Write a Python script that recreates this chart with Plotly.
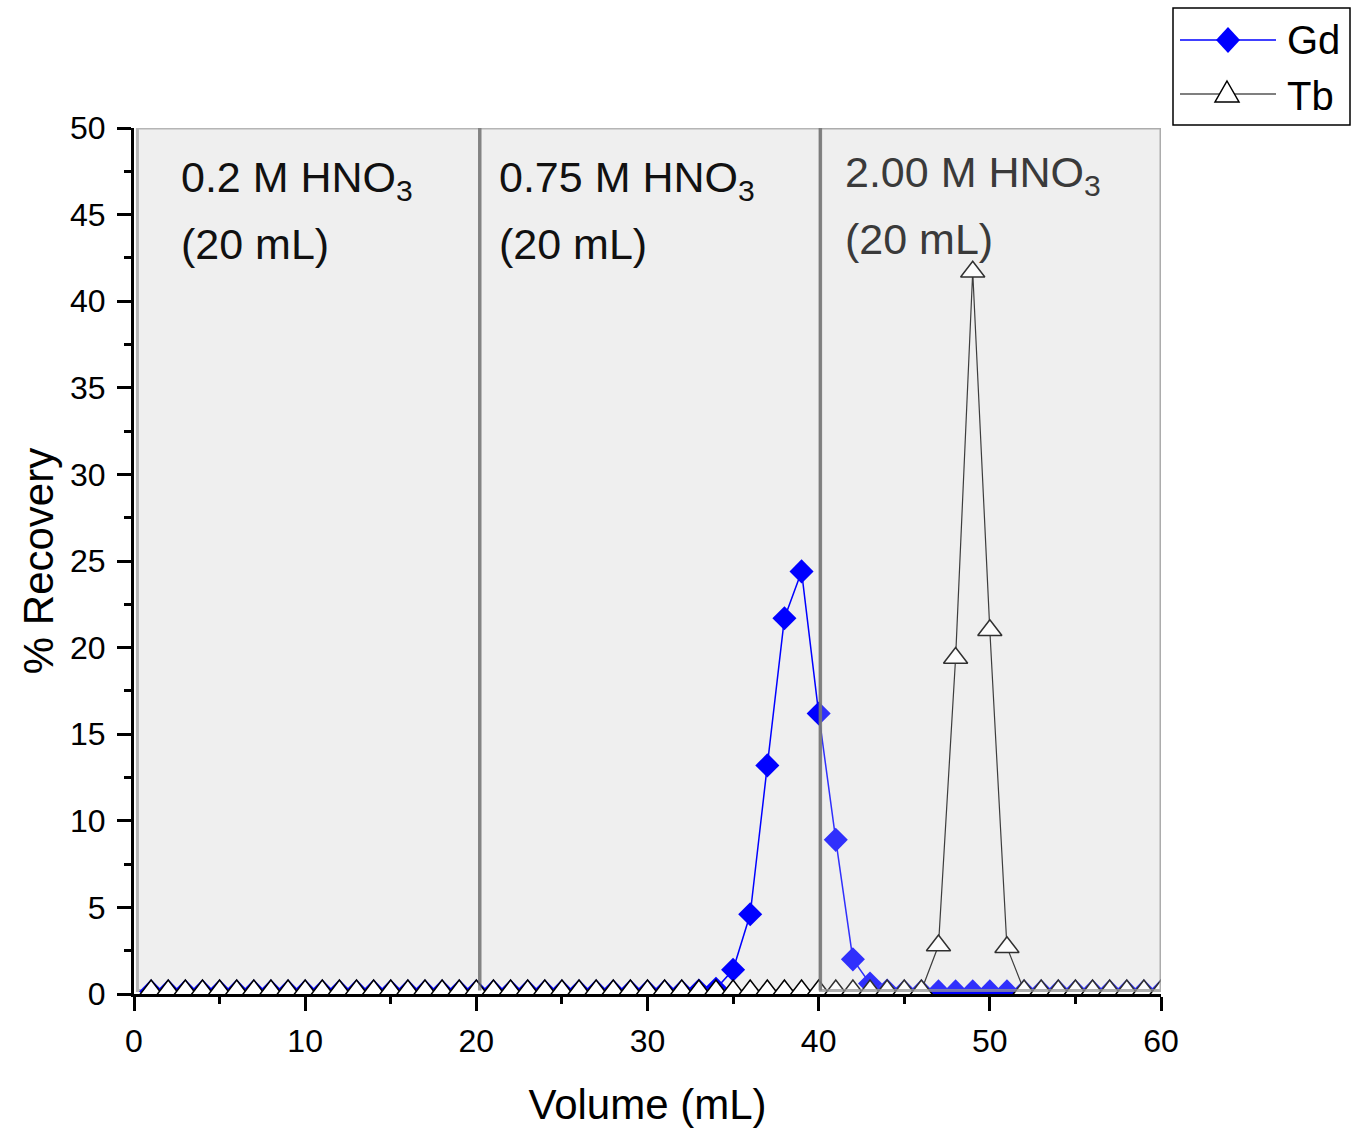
import plotly.graph_objects as go

# Elution volume (mL) and % recovery per fraction
volume = list(range(1, 61))
gd_recovery = [
    0.15, 0.15, 0.15, 0.15, 0.15, 0.15, 0.15, 0.15, 0.15, 0.15,
    0.15, 0.15, 0.15, 0.15, 0.15, 0.15, 0.15, 0.15, 0.15, 0.15,
    0.15, 0.15, 0.15, 0.15, 0.15, 0.15, 0.15, 0.15, 0.15, 0.15,
    0.15, 0.15, 0.2, 0.3, 1.4, 4.6, 13.2, 21.7, 24.4, 16.2,
    8.9, 2.0, 0.6, 0.2, 0.15, 0.15, 0.15, 0.15, 0.15, 0.15,
    0.15, 0.15, 0.15, 0.15, 0.15, 0.15, 0.15, 0.15, 0.15, 0.15,
]
tb_recovery = [
    0.2, 0.2, 0.2, 0.2, 0.2, 0.2, 0.2, 0.2, 0.2, 0.2,
    0.2, 0.2, 0.2, 0.2, 0.2, 0.2, 0.2, 0.2, 0.2, 0.2,
    0.2, 0.2, 0.2, 0.2, 0.2, 0.2, 0.2, 0.2, 0.2, 0.2,
    0.2, 0.2, 0.2, 0.2, 0.2, 0.2, 0.2, 0.2, 0.2, 0.2,
    0.2, 0.2, 0.2, 0.2, 0.2, 0.2, 2.8, 19.4, 41.7, 21.0,
    2.7, 0.2, 0.2, 0.2, 0.2, 0.2, 0.2, 0.2, 0.2, 0.2,
]

# Eluent steps: (start, end), concentration label, volume label
step_bounds = [(0.2, 20.2), (20.2, 40.1), (40.1, 60.0)]
step_labels = ["0.2 M HNO<sub>3</sub>", "0.75 M HNO<sub>3</sub>", "2.00 M HNO<sub>3</sub>"]
step_volumes = ["(20 mL)", "(20 mL)", "(20 mL)"]

FONT = "Liberation Sans, Arial, sans-serif"
W, H = 1355, 1134
ML, MR, MT, MB = 134, 194, 128, 140
PW, PH = W - ML - MR, H - MT - MB


def px(x):
    return (x - ML) / PW


def py(y):
    return (H - MB - y) / PH


fig = go.Figure()

fig.add_trace(go.Scatter(
    x=volume, y=gd_recovery, name="Gd", mode="lines+markers",
    line=dict(color="#0000ff", width=1.5),
    marker=dict(symbol="diamond", size=18.5, color="#0000ff",
                line=dict(width=0)),
    showlegend=False,
))
fig.add_trace(go.Scatter(
    x=volume, y=tb_recovery, name="Tb", mode="lines+markers",
    line=dict(color="#111111", width=1.2),
    marker=dict(symbol="triangle-up", size=21, color="white",
                line=dict(color="#000000", width=1.5)),
    showlegend=False,
))

shapes = []
# Shaded eluent panels (first two beneath the data)
for (x0, x1) in step_bounds[:2]:
    shapes.append(dict(type="rect", xref="x", yref="y", x0=x0, x1=x1,
                       y0=0.2, y1=50, layer="below",
                       fillcolor="#efefef",
                       line=dict(color="#b5b5b5", width=3)))
# Last panel: base fill below, translucent overlay above
x0, x1 = step_bounds[2]
shapes.append(dict(type="rect", xref="x", yref="y", x0=x0, x1=x1,
                   y0=0.2, y1=50, layer="below", fillcolor="#efefef",
                   line=dict(width=0)))
shapes.append(dict(type="rect", xref="x", yref="y", x0=x0, x1=x1,
                   y0=0.2, y1=50, layer="above",
                   fillcolor="rgba(239,239,239,0.2)",
                   line=dict(color="rgba(150,150,150,0.75)", width=3)))
# Dividers between eluent steps
for xd in (step_bounds[1][0], step_bounds[2][0]):
    shapes.append(dict(type="line", xref="x", yref="y", x0=xd, x1=xd,
                       y0=0.2, y1=50, layer="above",
                       line=dict(color="rgba(110,110,110,0.7)", width=3.5)))

# Legend box drawn in page pixels
shapes.append(dict(type="rect", xref="paper", yref="paper",
                   x0=px(1173), x1=px(1350), y0=py(125), y1=py(8),
                   line=dict(color="black", width=1.5), fillcolor="white"))
shapes.append(dict(type="line", xref="paper", yref="paper",
                   x0=px(1180), x1=px(1276), y0=py(40), y1=py(40),
                   line=dict(color="#0000ff", width=1.5)))
cx, cy = 1228, 40
shapes.append(dict(type="path", xref="paper", yref="paper",
                   path=(f"M{px(cx+12)},{py(cy)} L{px(cx)},{py(cy-13)} "
                         f"L{px(cx-12)},{py(cy)} L{px(cx)},{py(cy+13)} Z"),
                   fillcolor="#0000ff", line=dict(width=0)))
shapes.append(dict(type="line", xref="paper", yref="paper",
                   x0=px(1180), x1=px(1276), y0=py(94), y1=py(94),
                   line=dict(color="#000000", width=1.2)))
cx = 1227
shapes.append(dict(type="path", xref="paper", yref="paper",
                   path=(f"M{px(cx)},{py(81)} L{px(cx+12)},{py(102)} "
                         f"L{px(cx-12)},{py(102)} Z"),
                   fillcolor="white", line=dict(color="#000000", width=1.5)))

annotations = []
ann_x = [2.6, 21.2, 41.45]
ann_y1 = [47.0, 47.0, 47.3]
ann_y2 = [43.3, 43.3, 43.6]
ann_col = ["#111111", "#111111", "#3a3a3a"]
for i in range(3):
    annotations.append(dict(x=ann_x[i], y=ann_y1[i], xref="x", yref="y",
                            text=step_labels[i], showarrow=False,
                            xanchor="left", yanchor="middle",
                            font=dict(family=FONT, size=43, color=ann_col[i])))
    annotations.append(dict(x=ann_x[i], y=ann_y2[i], xref="x", yref="y",
                            text=step_volumes[i], showarrow=False,
                            xanchor="left", yanchor="middle",
                            font=dict(family=FONT, size=43, color=ann_col[i])))

for label, yy in (("Gd", 40), ("Tb", 96)):
    annotations.append(dict(x=px(1285), y=py(yy), xref="paper", yref="paper",
                            text=label, showarrow=False, xanchor="left",
                            yanchor="middle",
                            font=dict(family=FONT, size=40, color="black")))

fig.update_layout(
    width=W, height=H,
    margin=dict(l=ML, r=MR, t=MT, b=MB, pad=0),
    paper_bgcolor="white", plot_bgcolor="white",
    font=dict(family=FONT, color="black"),
    shapes=shapes, annotations=annotations,
    showlegend=False,
)
fig.update_xaxes(
    range=[0, 60], dtick=10, tick0=0, showgrid=False, zeroline=False,
    showline=True, linecolor="black", linewidth=3,
    ticks="outside", ticklen=14, tickwidth=3, tickcolor="black",
    minor=dict(dtick=5, ticks="outside", ticklen=7, tickwidth=3,
               tickcolor="black", showgrid=False),
    tickfont=dict(family=FONT, size=32), ticklabelstandoff=3,
    title=dict(text="Volume (mL)", font=dict(family=FONT, size=42), standoff=32),
)
fig.update_yaxes(
    range=[0, 50], dtick=5, tick0=0, showgrid=False, zeroline=False,
    showline=True, linecolor="black", linewidth=3,
    ticks="outside", ticklen=14, tickwidth=3, tickcolor="black",
    minor=dict(dtick=2.5, ticks="outside", ticklen=7, tickwidth=3,
               tickcolor="black", showgrid=False),
    tickfont=dict(family=FONT, size=32), ticklabelstandoff=5,
    title=dict(text="% Recovery", font=dict(family=FONT, size=42), standoff=4),
)

fig.write_html("out.html")
